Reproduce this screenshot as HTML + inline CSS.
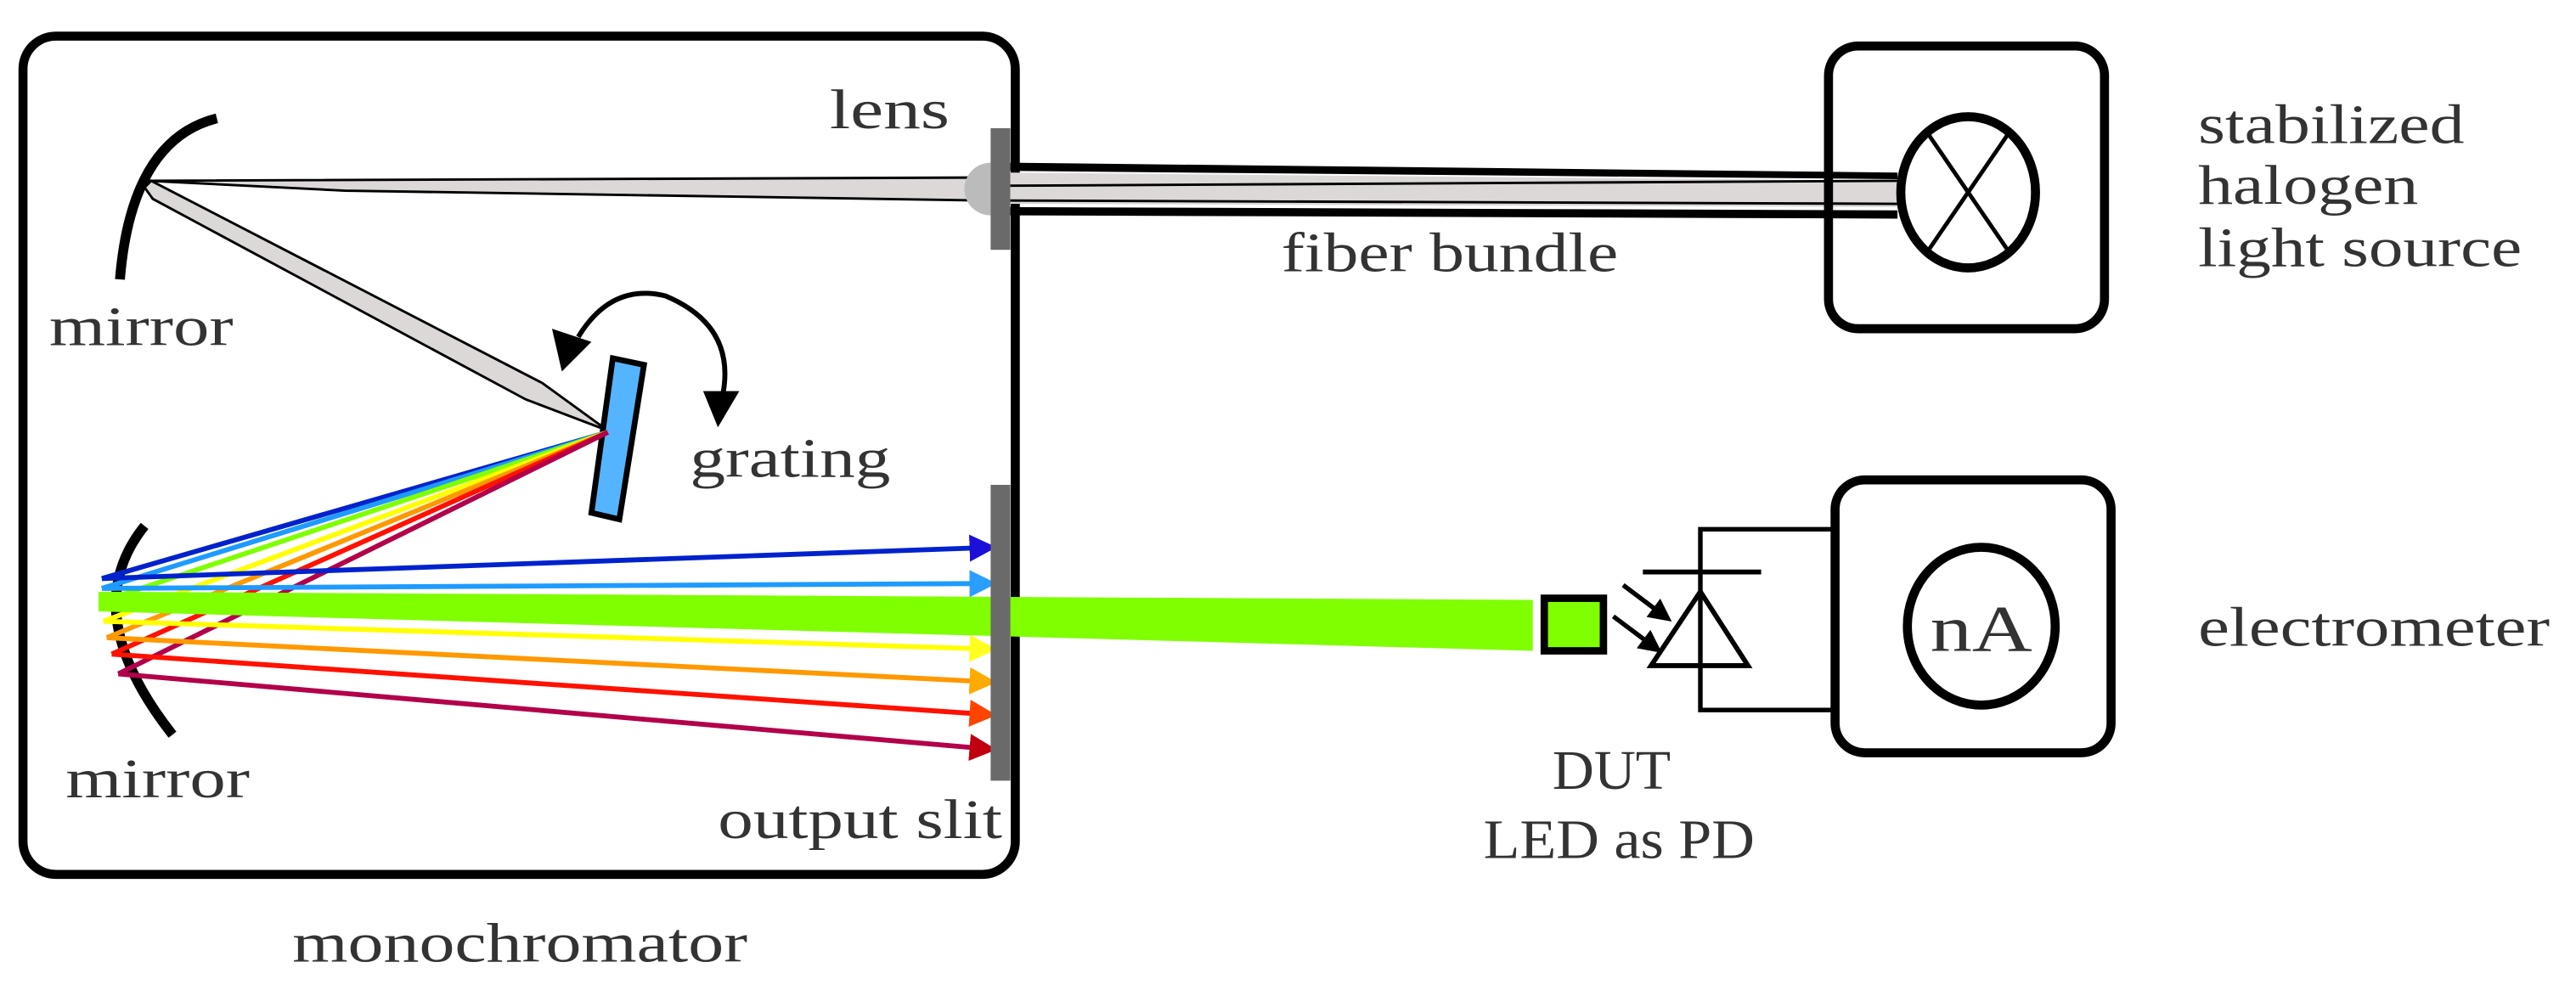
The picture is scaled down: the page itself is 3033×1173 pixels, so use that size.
<!DOCTYPE html>
<html><head><meta charset="utf-8"><style>
html,body{margin:0;padding:0;background:#fff;}
svg{display:block;}
text{font-family:"Liberation Serif",serif;fill:#333;}
</style></head><body>
<svg width="3033" height="1173" viewBox="0 0 1568 606" preserveAspectRatio="none" xmlns="http://www.w3.org/2000/svg">
<defs>
<marker id="a1" viewBox="0 0 10 10" refX="9" refY="5" markerWidth="5.5" markerHeight="5.5" orient="auto"><path d="M0,0L10,5L0,10z" fill="#1a10d8"/></marker>
<marker id="a2" viewBox="0 0 10 10" refX="9" refY="5" markerWidth="5.5" markerHeight="5.5" orient="auto"><path d="M0,0L10,5L0,10z" fill="#2a9fff"/></marker>
<marker id="a4" viewBox="0 0 10 10" refX="9" refY="5" markerWidth="5.5" markerHeight="5.5" orient="auto"><path d="M0,0L10,5L0,10z" fill="#ffff20"/></marker>
<marker id="a5" viewBox="0 0 10 10" refX="9" refY="5" markerWidth="5.5" markerHeight="5.5" orient="auto"><path d="M0,0L10,5L0,10z" fill="#ffaa00"/></marker>
<marker id="a6" viewBox="0 0 10 10" refX="9" refY="5" markerWidth="5.5" markerHeight="5.5" orient="auto"><path d="M0,0L10,5L0,10z" fill="#ff4400"/></marker>
<marker id="a7" viewBox="0 0 10 10" refX="9" refY="5" markerWidth="5.5" markerHeight="5.5" orient="auto"><path d="M0,0L10,5L0,10z" fill="#c00010"/></marker>
<marker id="bk" viewBox="0 0 10 10" refX="5" refY="5" markerWidth="5" markerHeight="5" orient="auto"><path d="M0,0L10,5L0,10z" fill="#000"/></marker>
</defs>

<rect x="14" y="22" width="604" height="510" rx="20" fill="none" stroke="#000" stroke-width="5.5"/>

<polygon points="90,110 600,108 600,122 210,116" fill="#ddd8d8" stroke="#000" stroke-width="1.5"/>
<polygon points="88,114 93,121 320,243 370,262 330,233 92,110" fill="#ddd8d8" stroke="#000" stroke-width="1.5"/>

<path d="M603,99 A16,16 0 0 0 603,131 Z" fill="#bbb"/>
<rect x="603" y="78" width="12" height="74" fill="#6a6a6a"/>

<polygon points="615,99 1155,105 1155,109 615,104" fill="#000"/>
<polygon points="615,105 1155,110 1155,126 615,124" fill="#ddd8d8"/>
<line x1="615" y1="113" x2="1155" y2="110" stroke="#000" stroke-width="1.5"/>
<line x1="615" y1="122" x2="1155" y2="124" stroke="#000" stroke-width="1.5"/>
<polygon points="615,126 1155,128 1155,133 615,131" fill="#000"/>

<path d="M132,72 Q80,85 73,170" fill="none" stroke="#000" stroke-width="6"/>
<path d="M88,320 Q46,372 105,447" fill="none" stroke="#000" stroke-width="6"/>

<polygon points="373,218 392,222 377,316 360,312" fill="#55b4ff" stroke="#000" stroke-width="3.5"/>
<path d="M352,205 Q372,172 405,180 Q448,198 440,240" fill="none" stroke="#000" stroke-width="3"/>
<polygon points="342,226 336,200 360,208" fill="#000"/>
<polygon points="437,260 450,238 428,238" fill="#000"/>

<g stroke-width="3" fill="none">
<line x1="370" y1="263" x2="62" y2="352" stroke="#0022cc"/>
<line x1="370" y1="263" x2="62" y2="358" stroke="#1e9bff"/>
<line x1="370" y1="263" x2="62" y2="366" stroke="#80ff00"/>
<line x1="370" y1="263" x2="63" y2="378" stroke="#ffff00"/>
<line x1="370" y1="263" x2="65" y2="388" stroke="#ff9900"/>
<line x1="370" y1="263" x2="68" y2="398" stroke="#ff1100"/>
<line x1="370" y1="263" x2="72" y2="410" stroke="#b3004a"/>
</g>
<polygon points="60,360 933,365 933,396 60,372" fill="#80ff00"/>
<g stroke-width="3" fill="none">
<line x1="62" y1="352" x2="605" y2="333" stroke="#0022cc" marker-end="url(#a1)"/>
<line x1="62" y1="358" x2="605" y2="355" stroke="#1e9bff" marker-end="url(#a2)"/>
<line x1="63" y1="378" x2="605" y2="395" stroke="#ffff00" marker-end="url(#a4)"/>
<line x1="65" y1="388" x2="605" y2="415" stroke="#ff9900" marker-end="url(#a5)"/>
<line x1="68" y1="398" x2="605" y2="435" stroke="#ff1100" marker-end="url(#a6)"/>
<line x1="72" y1="410" x2="605" y2="456" stroke="#b3004a" marker-end="url(#a7)"/>
</g>
<rect x="603" y="295" width="12" height="180" fill="#6a6a6a"/>

<rect x="940" y="364" width="36" height="32" fill="#80ff00" stroke="#000" stroke-width="4.5"/>
<polyline points="1117,322 1035,322 1035,432 1117,432" fill="none" stroke="#000" stroke-width="2.8"/>
<line x1="1000" y1="348" x2="1072" y2="348" stroke="#000" stroke-width="3"/>
<polygon points="1035,360 1005,405 1064,405" fill="none" stroke="#000" stroke-width="3"/>
<line x1="988" y1="356" x2="1012" y2="374" stroke="#000" stroke-width="2.8" marker-end="url(#bk)"/>
<line x1="982" y1="375" x2="1006" y2="393" stroke="#000" stroke-width="2.8" marker-end="url(#bk)"/>

<rect x="1117" y="292" width="168" height="166" rx="18" fill="none" stroke="#000" stroke-width="5.5"/>
<ellipse cx="1206" cy="381" rx="45" ry="48" fill="none" stroke="#000" stroke-width="5.5"/>
<text x="1206" y="396" font-size="40" text-anchor="middle" textLength="62" lengthAdjust="spacingAndGlyphs">nA</text>

<rect x="1113" y="28" width="168" height="172" rx="18" fill="none" stroke="#000" stroke-width="5.5"/>
<ellipse cx="1198" cy="117" rx="41" ry="46" fill="none" stroke="#000" stroke-width="5.5"/>
<line x1="1174" y1="82" x2="1222" y2="152" stroke="#000" stroke-width="2.5"/>
<line x1="1222" y1="82" x2="1174" y2="152" stroke="#000" stroke-width="2.5"/>

<g font-size="34">
<text x="505" y="78" textLength="73" lengthAdjust="spacingAndGlyphs">lens</text>
<text x="30" y="210" textLength="112" lengthAdjust="spacingAndGlyphs">mirror</text>
<text x="420" y="290" textLength="122" lengthAdjust="spacingAndGlyphs">grating</text>
<text x="40" y="485" textLength="112" lengthAdjust="spacingAndGlyphs">mirror</text>
<text x="437" y="510" textLength="173" lengthAdjust="spacingAndGlyphs">output slit</text>
<text x="178" y="585" textLength="277" lengthAdjust="spacingAndGlyphs">monochromator</text>
<text x="780" y="165" textLength="205" lengthAdjust="spacingAndGlyphs">fiber bundle</text>
<text x="1338" y="87" textLength="162" lengthAdjust="spacingAndGlyphs">stabilized</text>
<text x="1338" y="124" textLength="134" lengthAdjust="spacingAndGlyphs">halogen</text>
<text x="1338" y="162" textLength="197" lengthAdjust="spacingAndGlyphs">light source</text>
<text x="1338" y="393" textLength="214" lengthAdjust="spacingAndGlyphs">electrometer</text>
<text x="945" y="480" textLength="72" lengthAdjust="spacingAndGlyphs">DUT</text>
<text x="903" y="522" textLength="165" lengthAdjust="spacingAndGlyphs">LED as PD</text>
</g>
</svg>
</body></html>
